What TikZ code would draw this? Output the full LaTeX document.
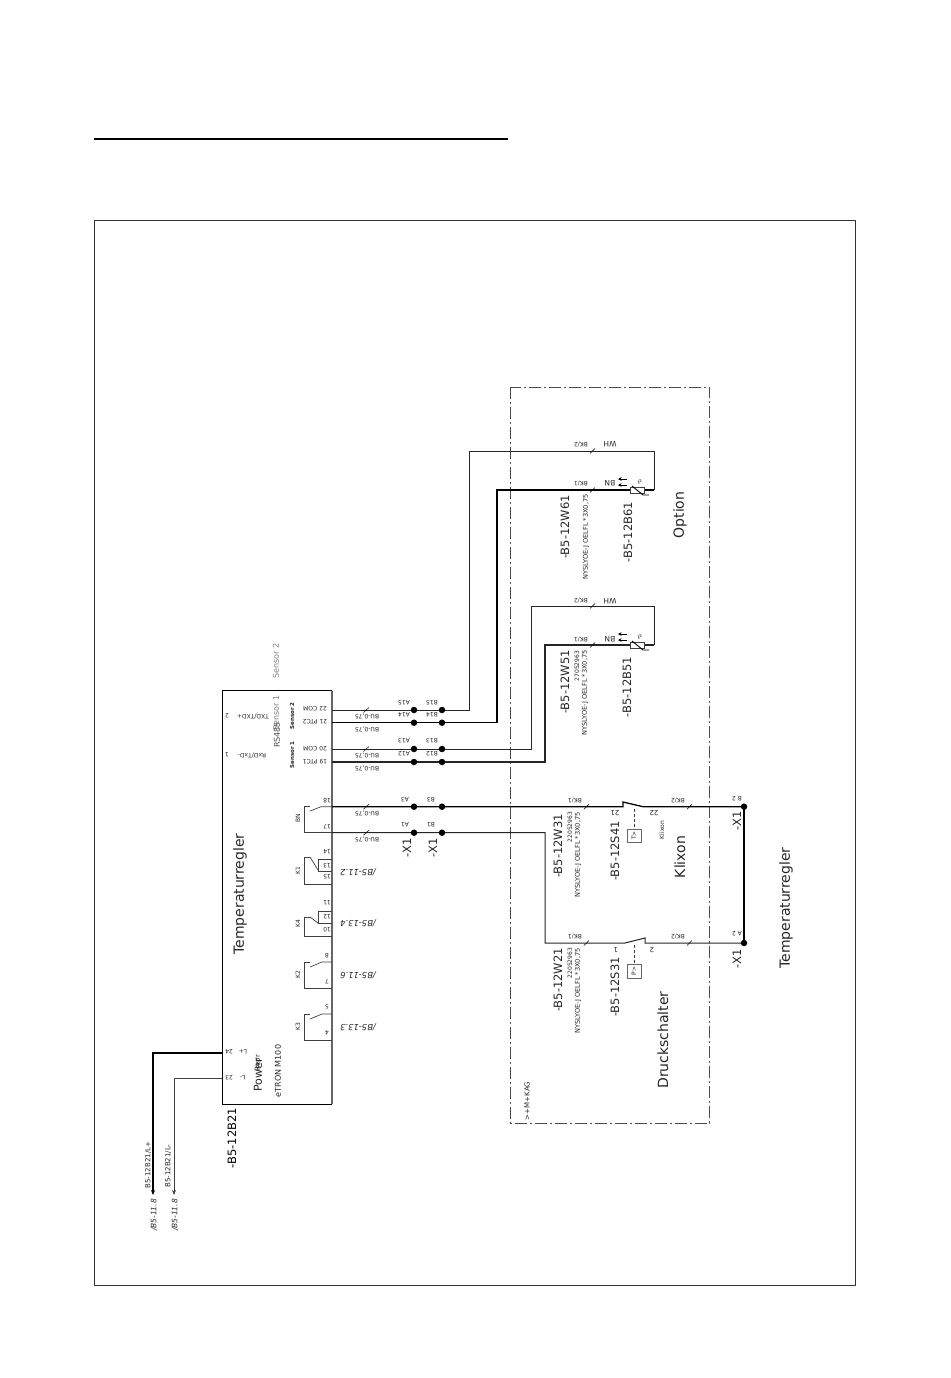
\documentclass[tikz,border=0pt]{standalone}
\usepackage{fontspec}
\setmainfont{DejaVu Sans}
\usetikzlibrary{arrows.meta}
\tikzset{
 x=1pt,y=-1pt,
 wire/.style={draw=black!85,line width=1pt},
 hv/.style={draw=black,line width=1.25pt},
 thin1/.style={draw=black!75,line width=0.7pt},
 gbox/.style={draw=black!60,line width=1.1pt},
 tick1/.style={draw=black,line width=0.5pt},
 dot1/.style={circle,fill=black,inner sep=0pt,minimum size=6.5pt},
 up/.style={rotate=90,inner sep=0pt,text=black!85},
 down/.style={rotate=180,inner sep=0pt,text=black!85},
 big/.style={up,font=\fontsize{14}{14}\selectfont},
 mid/.style={up,font=\fontsize{11.5}{12}\selectfont},
 tiny1/.style={down,font=\fontsize{6}{6}\selectfont},
 tinyu/.style={up,font=\fontsize{6}{6}\selectfont},
 cable/.style={up,font=\fontsize{6.6}{7}\selectfont},
 xref/.style={down,font=\fontsize{8.4}{9}\selectfont\itshape},
 term/.style={down,font=\fontsize{6}{6}\selectfont},
}
\begin{document}
\begin{tikzpicture}
\useasboundingbox (0,0) rectangle (950,1378);
% frame
\draw[line width=0.6pt,draw=black!80] (94,220) rectangle (855.5,1285);
\draw[line width=1.4pt] (94,139) -- (508,139);
\draw[line width=0.6pt,draw=black!70,dash pattern=on 12pt off 3pt on 2pt off 3pt] (510.5,387) rectangle (709.5,1123);
\node[up,font=\fontsize{7}{7}\selectfont] (kag) at (527,1101) {>+M+KAG};
% device
\draw[thin1,draw=black] (332,690.5) -- (222,690.5) -- (222,1104) -- (332,1104);
\draw[gbox] (332,690.5) -- (332,1104);
\coordinate (w22) at (332,710); \coordinate (w21) at (332,722.7);
\coordinate (w20) at (332,749); \coordinate (w19) at (332,762);
\coordinate (w18) at (332,806.7); \coordinate (w17) at (332,832.7);
% wires to sensors
\draw[wire] (w22) -- (469.5,710) -- (469.5,451) -- (654,451) -- (654,490);
\draw[hv] (w21) -- (497,722.7) -- (497,490) -- (654,490);
\draw[wire] (w20) -- (531,749) -- (531,606) -- (654,606) -- (654,645);
\draw[wire,line width=1.15pt] (w19) -- (545,762) -- (545,645) -- (654,645);
% klixon / druck wires
\draw[hv] (w18) -- (623,806.7) -- (623,802) -- (643,806.7) -- (744,806.7);
\draw[wire] (w17) -- (545,832.7) -- (545,943) -- (625,943) -- (645,938) -- (645,943) -- (744,943);
\draw[hv] (744,806.7) -- (744,943);
\node[dot1] (xb2) at (744,806.7) {};
\node[dot1] (xa2) at (744,943) {};
% terminal dots
\foreach \n/\y in {a/710,b/722.7,c/749,d/762,e/806.7,f/832.7}{
 \node[dot1] (l\n) at (414,\y) {};
 \node[dot1] (r\n) at (442,\y) {};
}
% terminal labels
\foreach \t/\y in {A15/703,A14/715,A13/741,A12/754}{\node[term] at (404,\y) {\t};}
\foreach \t/\y in {B15/703,B14/715,B13/741,B12/754}{\node[term] at (432,\y) {\t};}
\foreach \t/\y in {A3/800,A1/825}{\node[term] at (405,\y) {\t};}
\foreach \t/\y in {B3/800,B1/825}{\node[term] at (431,\y) {\t};}
\node[mid] at (407,848) {-X1};
\node[mid] at (433,848) {-X1};
% BU labels and ticks
\foreach \y in {716,729,755,768,813,839}{\node[tiny1] at (367,\y) {BU-0,75};}
\foreach \y in {710,749,806.7,832.7}{\draw[tick1] (363.5,\y+2.5) -- (369,\y-2.5);}
% pin labels in box
\foreach \t/\y in {22 COM/709,21 PTC2/722,20 COM/749,19 PTC1/762}{\node[tiny1] at (315,\y) {\t};}
\node[tinyu,font=\fontsize{5.5}{6}\selectfont\bfseries] at (292,716) {Sensor 2};
\node[tinyu,font=\fontsize{5.5}{6}\selectfont\bfseries] at (292,755) {Sensor 1};
\node[up,text=black!50,font=\fontsize{8}{8}\selectfont] at (276,661) {Sensor 2};
\node[up,text=black!50,font=\fontsize{8}{8}\selectfont] at (276,713) {Sensor 1};
\node[up,text=black!70,font=\fontsize{8}{8}\selectfont] at (277,735) {RS485};
\node[tiny1] at (253,716) {TXD/TXD+};
\node[tiny1] at (252,755) {RxD/TxD-};
\node[term] at (227,716) {2};
\node[term] at (227,755) {1};
% relay BN
\node[tinyu] at (298,818) {BN};
\draw[thin1] (332,806.7) -- (321,806.7) -- (310,811);
\draw[thin1] (310,806.7) -- (304,806.7) -- (304,832.7) -- (332,832.7);
\node[term] at (327,801) {18};
\node[term] at (327,827) {17};
% K1
\node[tinyu] at (298,871) {K1};
\draw[thin1] (310,857) -- (304,857) -- (304,884) -- (332,884);
\draw[thin1] (310,857) -- (318,870);
\draw[thin1] (332,859) -- (318,859) -- (318,871) -- (332,871);
\node[term] at (327,852) {14};
\node[term] at (327,866) {13};
\node[term] at (327,877) {15};
% K4
\node[tinyu] at (298,924) {K4};
\draw[thin1] (310,917) -- (304,917) -- (304,936) -- (332,936);
\draw[thin1] (310,917) -- (318,923);
\draw[thin1] (332,911) -- (318,911) -- (318,923) -- (332,923);
\node[term] at (327,903) {11};
\node[term] at (327,917) {12};
\node[term] at (327,930) {10};
% K2
\node[tinyu] at (298,975) {K2};
\draw[thin1] (310,962) -- (304,962) -- (304,988) -- (332,988);
\draw[thin1] (310,967) -- (322,962) -- (332,962);
\node[term] at (327,956) {8};
\node[term] at (327,982) {7};
% K3
\node[tinyu] at (298,1027) {K3};
\draw[thin1] (310,1014) -- (304,1014) -- (304,1040) -- (332,1040);
\draw[thin1] (310,1019) -- (322,1014) -- (332,1014);
\node[term] at (327,1007) {5};
\node[term] at (327,1033) {4};
% cross refs
\node[xref] at (358,872) {/B5-11.2};
\node[xref] at (358,923) {/B5-13.4};
\node[xref] at (358,975) {/B5-11.6};
\node[xref] at (358,1027) {/B5-13.3};
% device labels
\node[big] (t1) at (240,894) {Temperaturregler};
\node[mid,text=black] at (232,1138) {-B5-12B21};
\node[up,font=\fontsize{11}{11}\selectfont] at (258,1075) {Power};
\node[up,font=\fontsize{7}{7}\selectfont] at (258,1063) {Repr};
\node[up,font=\fontsize{8}{8}\selectfont] at (278,1071) {eTRON M100};
\foreach \t/\y/\u in {L+/1052/24,L-/1078/23}{
 \node[term] at (243,\y) {\t};
 \node[term] at (229,\y) {\u};
}
% power wires
\coordinate (pa) at (153,1195); \coordinate (pb) at (174,1195);
\draw[hv,-{Stealth[length=5pt,width=4pt]}] (222,1053) -- (153,1053) -- (pa);
\draw[thin1,-{Stealth[length=5pt,width=4pt]}] (222,1078) -- (174,1078) -- (pb);
\node[up,font=\fontsize{7}{7}\selectfont] at (148,1165) {B5-12B21/L+};
\node[up,font=\fontsize{7}{7}\selectfont] at (168,1166) {B5-12B21/L-};
\node[up,font=\fontsize{7.5}{8}\selectfont\itshape] at (154,1215) {/B5-11.8};
\node[up,font=\fontsize{7.5}{8}\selectfont\itshape] at (175,1215) {/B5-11.8};
% ticks on cables
\foreach \x/\y in {587/806.7,690/806.7,587/943,690/943,593/451,593/490,593/606,593/645}{\draw[tick1] (\x-3,\y+2.5) -- (\x+2,\y-2.5);}
\foreach \t/\x/\y in {{BK/1}/575/800,{BK/2}/678/800,{BK/1}/575/936,{BK/2}/678/936,{BK/2}/581/444,{BK/1}/581/483,{BK/2}/581/600,{BK/1}/581/639}{\node[tiny1] at (\x,\y) {\t};}
\foreach \t/\y in {WH/444,BN/483,WH/601,BN/639}{\node[down,font=\fontsize{7.5}{8}\selectfont] at (610,\y) {\t};}
% sensor symbols
\foreach \y in {490,645}{
 \draw[thin1,fill=white,line width=0.9pt] (630,\y-2.5) rectangle (644,\y+3);
 \draw[draw=black,line width=0.9pt] (632,\y-4) -- (643,\y+5) -- (649,\y+5);
 \node[down,font=\fontsize{7}{7}\selectfont\bfseries] at (640,\y-8) {$\vartheta$};
 \draw[-{Stealth[length=3.5pt,width=3.5pt]},line width=0.5pt] (627,\y-11) -- (618,\y-11);
 \draw[-{Stealth[length=3.5pt,width=3.5pt]},line width=0.5pt] (627,\y-5) -- (618,\y-5);
}
% switches
\draw[thin1,densely dashed] (634,809) -- (634,829);
\draw[thin1,densely dashed] (634,945) -- (634,964);
\node[draw=black!60,line width=0.9pt,minimum width=14pt,minimum height=13pt,inner sep=0pt] (tb) at (634,835.5) {};
\node[up,font=\fontsize{6}{6}\selectfont] at (tb) {T>};
\node[draw=black!60,line width=0.9pt,minimum width=14pt,minimum height=14pt,inner sep=0pt] (pbx) at (634,971) {};
\node[up,font=\fontsize{6}{6}\selectfont] at (pbx) {P>};
\foreach \t/\x/\y in {21/615/813,22/654/813,1/616/950,2/652/950}{\node[down,font=\fontsize{7}{7}\selectfont] at (\x,\y) {\t};}
% BMK
\node[mid] at (558,846) {-B5-12W31};
\node[mid] at (558,980) {-B5-12W21};
\node[mid] at (615,851) {-B5-12S41};
\node[mid] at (615,987) {-B5-12S31};
\node[mid] at (565,682) {-B5-12W51};
\node[mid] at (627,687) {-B5-12B51};
\node[mid] at (565,527) {-B5-12W61};
\node[mid] at (628,532) {-B5-12B61};
\node[mid] at (737,821) {-X1};
\node[mid] at (737,959) {-X1};
\node[term] at (737,799) {B 2};
\node[term] at (737,934) {A 2};
\node[tinyu] at (570,827) {22052963};
\node[tinyu] at (570,963) {22052963};
\node[tinyu] at (577,666) {27052963};
\node[cable] at (578,855) {NYSLYOE-J OELFL *3X0,75};
\node[cable] at (578,991) {NYSLYOE-J OELFL *3X0,75};
\node[cable] at (585,693) {NYSLYOE-J OELFL *3X0,75};
\node[cable] at (586,537) {NYSLYOE-J OELFL *3X0,75};
\node[tinyu] at (662,830) {Klixon};
\node[big] at (680,857) {Klixon};
\node[big] at (663,1040) {Druckschalter};
\node[big] at (786,908) {Temperaturregler};
\node[big] at (680,515) {Option};
\end{tikzpicture}
\end{document}
